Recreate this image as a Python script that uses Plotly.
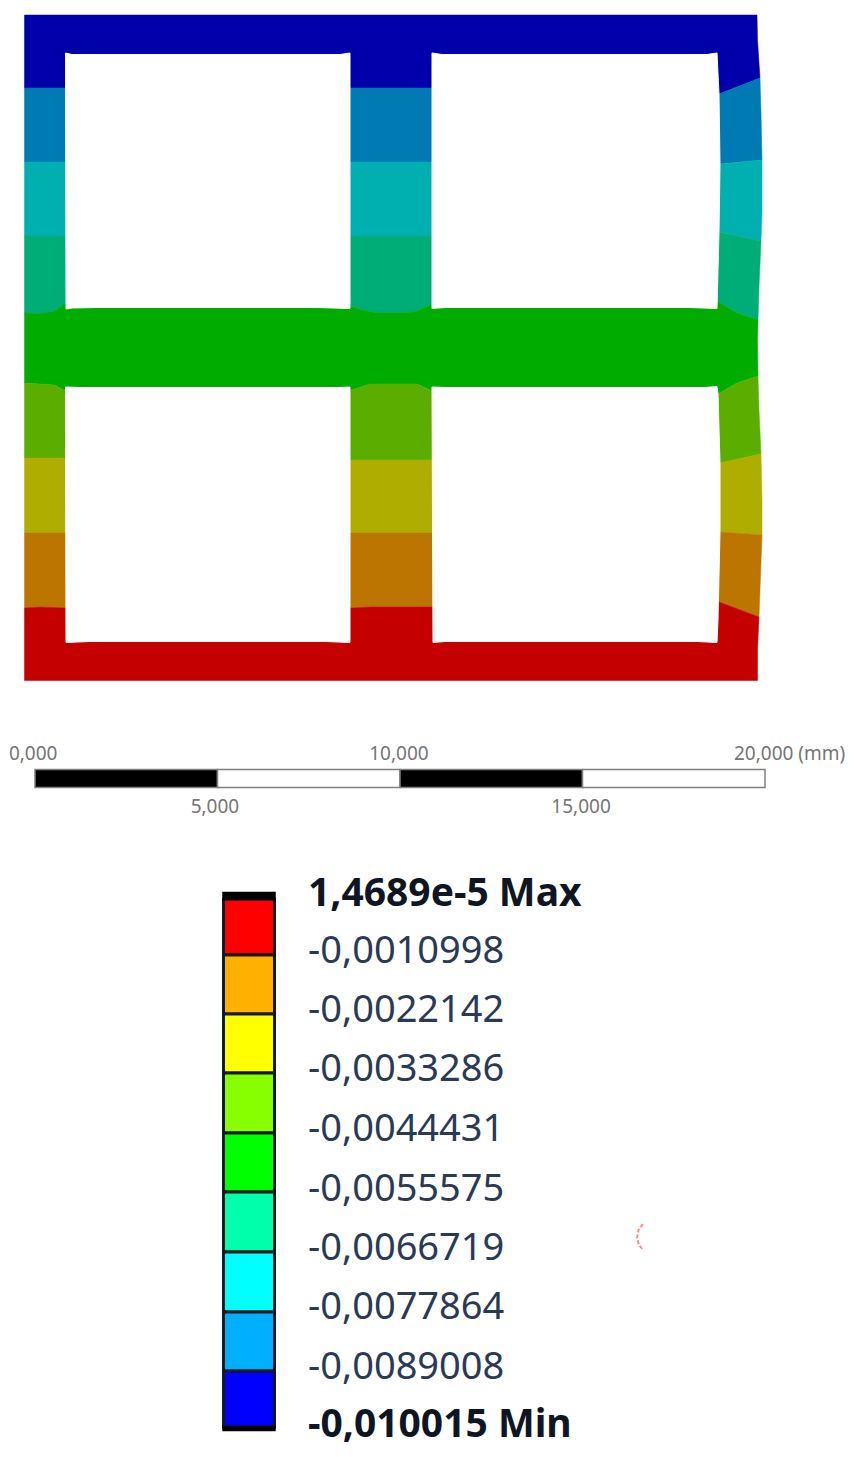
import plotly.graph_objects as go

# ---------- contour plot, in reference-picture units ----------
BAND_COLORS = ["#0000AA", "#007AB2", "#00B0B0", "#00AD76", "#00AC00",
               "#5BAE00", "#AFAE00", "#BC7600", "#C40000"]
PART_TOP = 15
PART_BOTTOM = 680.5
PART_LEFT = 24.5
RIGHT_EDGE_X = [757, 757.5, 759, 760, 761, 762, 762, 761, 759, 758, 757.5, 757.5, 759, 761, 762, 762, 760, 758, 757.5, 757.5]
RIGHT_EDGE_Y = [15, 40, 67, 78, 113, 147, 213, 241, 287, 320, 340, 376, 410, 454, 500, 535, 590, 617, 650, 680.5]

B1_X = [24.5, 432, 719, 760];      B1_Y = [88, 88, 94, 78]
B2_X = [24.5, 432, 720, 762];      B2_Y = [162, 162, 164, 160]
B3_X = [24.5, 432, 719, 761];      B3_Y = [236, 236, 232, 241]
B4_X = [24.5, 40, 55, 63, 350, 362, 375, 390, 415, 430, 717, 737, 758]
B4_Y = [313, 313.5, 311, 305, 306, 310, 312.5, 313, 312, 305, 301, 313, 320]
B5_X = [24.5, 40, 55, 63, 352, 370, 417, 430, 718, 737, 758]
B5_Y = [383, 384, 385, 390, 390, 384, 384, 390, 394, 383, 376]
B6_X = [24.5, 65, 350, 432, 720, 761]; B6_Y = [458, 458, 460, 460, 463, 454]
B7_X = [24.5, 432, 720, 762];      B7_Y = [533, 533, 532, 535]
B8_X = [24.5, 40, 65, 352, 370, 432, 719, 759]
B8_Y = [608, 607, 608, 608, 607, 607, 602, 617]

BOUNDARIES = [(B1_X, B1_Y), (B2_X, B2_Y), (B3_X, B3_Y), (B4_X, B4_Y),
              (B5_X, B5_Y), (B6_X, B6_Y), (B7_X, B7_Y), (B8_X, B8_Y)]

HOLE1_X = [65.5, 72, 340, 350, 350, 317, 97, 72, 66]
HOLE1_Y = [53, 54.5, 54.5, 53, 308.5, 307.5, 307.5, 308, 309]
HOLE2_X = [432, 442, 707, 717, 719, 720, 719, 718, 717, 690, 445, 432]
HOLE2_Y = [53, 54.5, 54.5, 53, 94, 164, 232, 262, 308.5, 307.5, 307.5, 308.5]
HOLE3_X = [65.5, 80, 340, 350, 350, 325, 90, 66]
HOLE3_Y = [387, 387.5, 387.5, 387, 642.5, 641.5, 641.5, 642.5]
HOLE4_X = [432, 445, 705, 717, 718, 720, 720, 719, 718, 717, 697, 445, 433]
HOLE4_Y = [387, 387.5, 387.5, 386.5, 394, 463, 532, 590, 620, 642.5, 641.5, 641.5, 642.5]
HOLES = [(HOLE1_X, HOLE1_Y), (HOLE2_X, HOLE2_Y), (HOLE3_X, HOLE3_Y), (HOLE4_X, HOLE4_Y)]

# ---------- scale bar, millimetres ----------
PX_PER_MM = 36.5
SCALE_START = [0, 5, 10, 15]
SCALE_LEN = [5, 5, 5, 5]
SCALE_COLORS = ["#000000", "#FFFFFF", "#000000", "#FFFFFF"]
SCALE_TOP_LABELS = ["0,000", "10,000", "20,000 (mm)"]
SCALE_TOP_POS = [-0.05, 9.97, 19.15]
SCALE_BOTTOM_LABELS = ["5,000", "15,000"]
SCALE_BOTTOM_POS = [4.93, 14.96]

# ---------- colour legend ----------
LEGEND_COLORS = ["#FF0000", "#FFB000", "#FFFF00", "#88FF00", "#00FF00",
                 "#00FFAA", "#00FFFF", "#00B0FF", "#0000FF"]
LEGEND_EDGES = [899, 955, 1014, 1073, 1133, 1192, 1252, 1312, 1371, 1427]
LEGEND_LABELS = ["<b>1,4689e-5 Max</b>", "-0,0010998", "-0,0022142", "-0,0033286",
                 "-0,0044431", "-0,0055575", "-0,0066719", "-0,0077864",
                 "-0,0089008", "<b>-0,010015 Min</b>"]
LEGEND_LABEL_Y = [896, 953, 1012, 1071, 1131, 1191, 1250, 1309, 1369, 1427]
MARK_X = [643, 638.5, 637, 639, 643]
MARK_Y = [1224, 1230, 1238, 1245, 1250]

W, H = 859, 1457
SMALL_FONT = dict(family="Noto Sans", size=19, color="#757575")
fig = go.Figure()


def band_polygon(upper, lower):
    ux, uy = list(upper[0]), list(upper[1])
    lx, ly = list(lower[0]), list(lower[1])
    edge = [(x, y) for x, y in zip(RIGHT_EDGE_X, RIGHT_EDGE_Y) if uy[-1] < y < ly[-1]]
    return (ux + [p[0] for p in edge] + lx[::-1] + [ux[0]],
            uy + [p[1] for p in edge] + ly[::-1] + [uy[0]])


top = ([PART_LEFT, RIGHT_EDGE_X[0]], [PART_TOP, PART_TOP])
bottom = ([PART_LEFT, RIGHT_EDGE_X[-1]], [PART_BOTTOM, PART_BOTTOM])
rails = [top] + BOUNDARIES + [bottom]
for i, color in enumerate(BAND_COLORS):
    px, py = band_polygon(rails[i], rails[i + 1])
    fig.add_trace(go.Scatter(x=px, y=py, mode="lines", fill="toself", fillcolor=color,
                             line=dict(color=color, width=0.5), hoverinfo="skip"))
for hx, hy in HOLES:
    fig.add_trace(go.Scatter(x=hx + hx[:1], y=hy + hy[:1], mode="lines", fill="toself",
                             fillcolor="#FFFFFF", line=dict(color="#FFFFFF", width=1),
                             hoverinfo="skip"))

# scale bar on a millimetre x axis
fig.add_trace(go.Bar(x=SCALE_LEN, base=SCALE_START, y=[778.5] * 4, width=[18] * 4, orientation="h",
                     xaxis="x2", marker=dict(color=SCALE_COLORS, line=dict(color="#808080", width=1.5)),
                     hoverinfo="skip"))
fig.add_trace(go.Scatter(x=SCALE_TOP_POS[:2], y=[755, 755], xaxis="x2", mode="text",
                         text=SCALE_TOP_LABELS[:2], textposition="middle center", textfont=SMALL_FONT))
fig.add_trace(go.Scatter(x=SCALE_TOP_POS[2:], y=[755], xaxis="x2", mode="text",
                         text=SCALE_TOP_LABELS[2:], textposition="middle right", textfont=SMALL_FONT))
fig.add_trace(go.Scatter(x=SCALE_BOTTOM_POS, y=[808, 808], xaxis="x2", mode="text",
                         text=SCALE_BOTTOM_LABELS, textposition="middle center", textfont=SMALL_FONT))

# colour legend
fig.add_trace(go.Bar(x=[249] * 9, y=[b - a for a, b in zip(LEGEND_EDGES[:-1], LEGEND_EDGES[1:])],
                     base=LEGEND_EDGES[:-1], width=[51] * 9,
                     marker=dict(color=LEGEND_COLORS, line=dict(color="#101820", width=3)),
                     hoverinfo="skip"))
fig.add_trace(go.Bar(x=[249, 249], y=[6, 3], base=[893, 1427], width=[51, 51],
                     marker=dict(color="#000000", line=dict(color="#000000", width=2.5)),
                     hoverinfo="skip"))
fig.add_trace(go.Scatter(x=[308] * 8, y=LEGEND_LABEL_Y[1:9], mode="text", text=LEGEND_LABELS[1:9],
                         textposition="middle right",
                         textfont=dict(family="Noto Sans", size=38, color="#2A3A55")))
fig.add_trace(go.Scatter(x=[308, 308], y=[LEGEND_LABEL_Y[0], LEGEND_LABEL_Y[9]], mode="text",
                         text=[LEGEND_LABELS[0], LEGEND_LABELS[9]], textposition="middle right",
                         textfont=dict(family="Noto Sans", size=39, color="#0E1624")))
fig.add_trace(go.Scatter(x=MARK_X, y=MARK_Y, mode="lines",
                         line=dict(color="#FF8A8A", width=2, dash="4px 2px"), hoverinfo="skip"))

fig.update_layout(
    width=W, height=H, margin=dict(l=0, r=0, t=0, b=0), showlegend=False,
    paper_bgcolor="#FFFFFF", plot_bgcolor="#FFFFFF", barmode="overlay",
    xaxis=dict(range=[0, W], visible=False, fixedrange=True),
    xaxis2=dict(range=[-35 / PX_PER_MM, (W - 35) / PX_PER_MM], overlaying="x", visible=False, fixedrange=True),
    yaxis=dict(range=[H, 0], visible=False, fixedrange=True),
)
fig.write_html("out.html", config=dict(displayModeBar=False),
               post_script="document.body.style.margin='0';")
